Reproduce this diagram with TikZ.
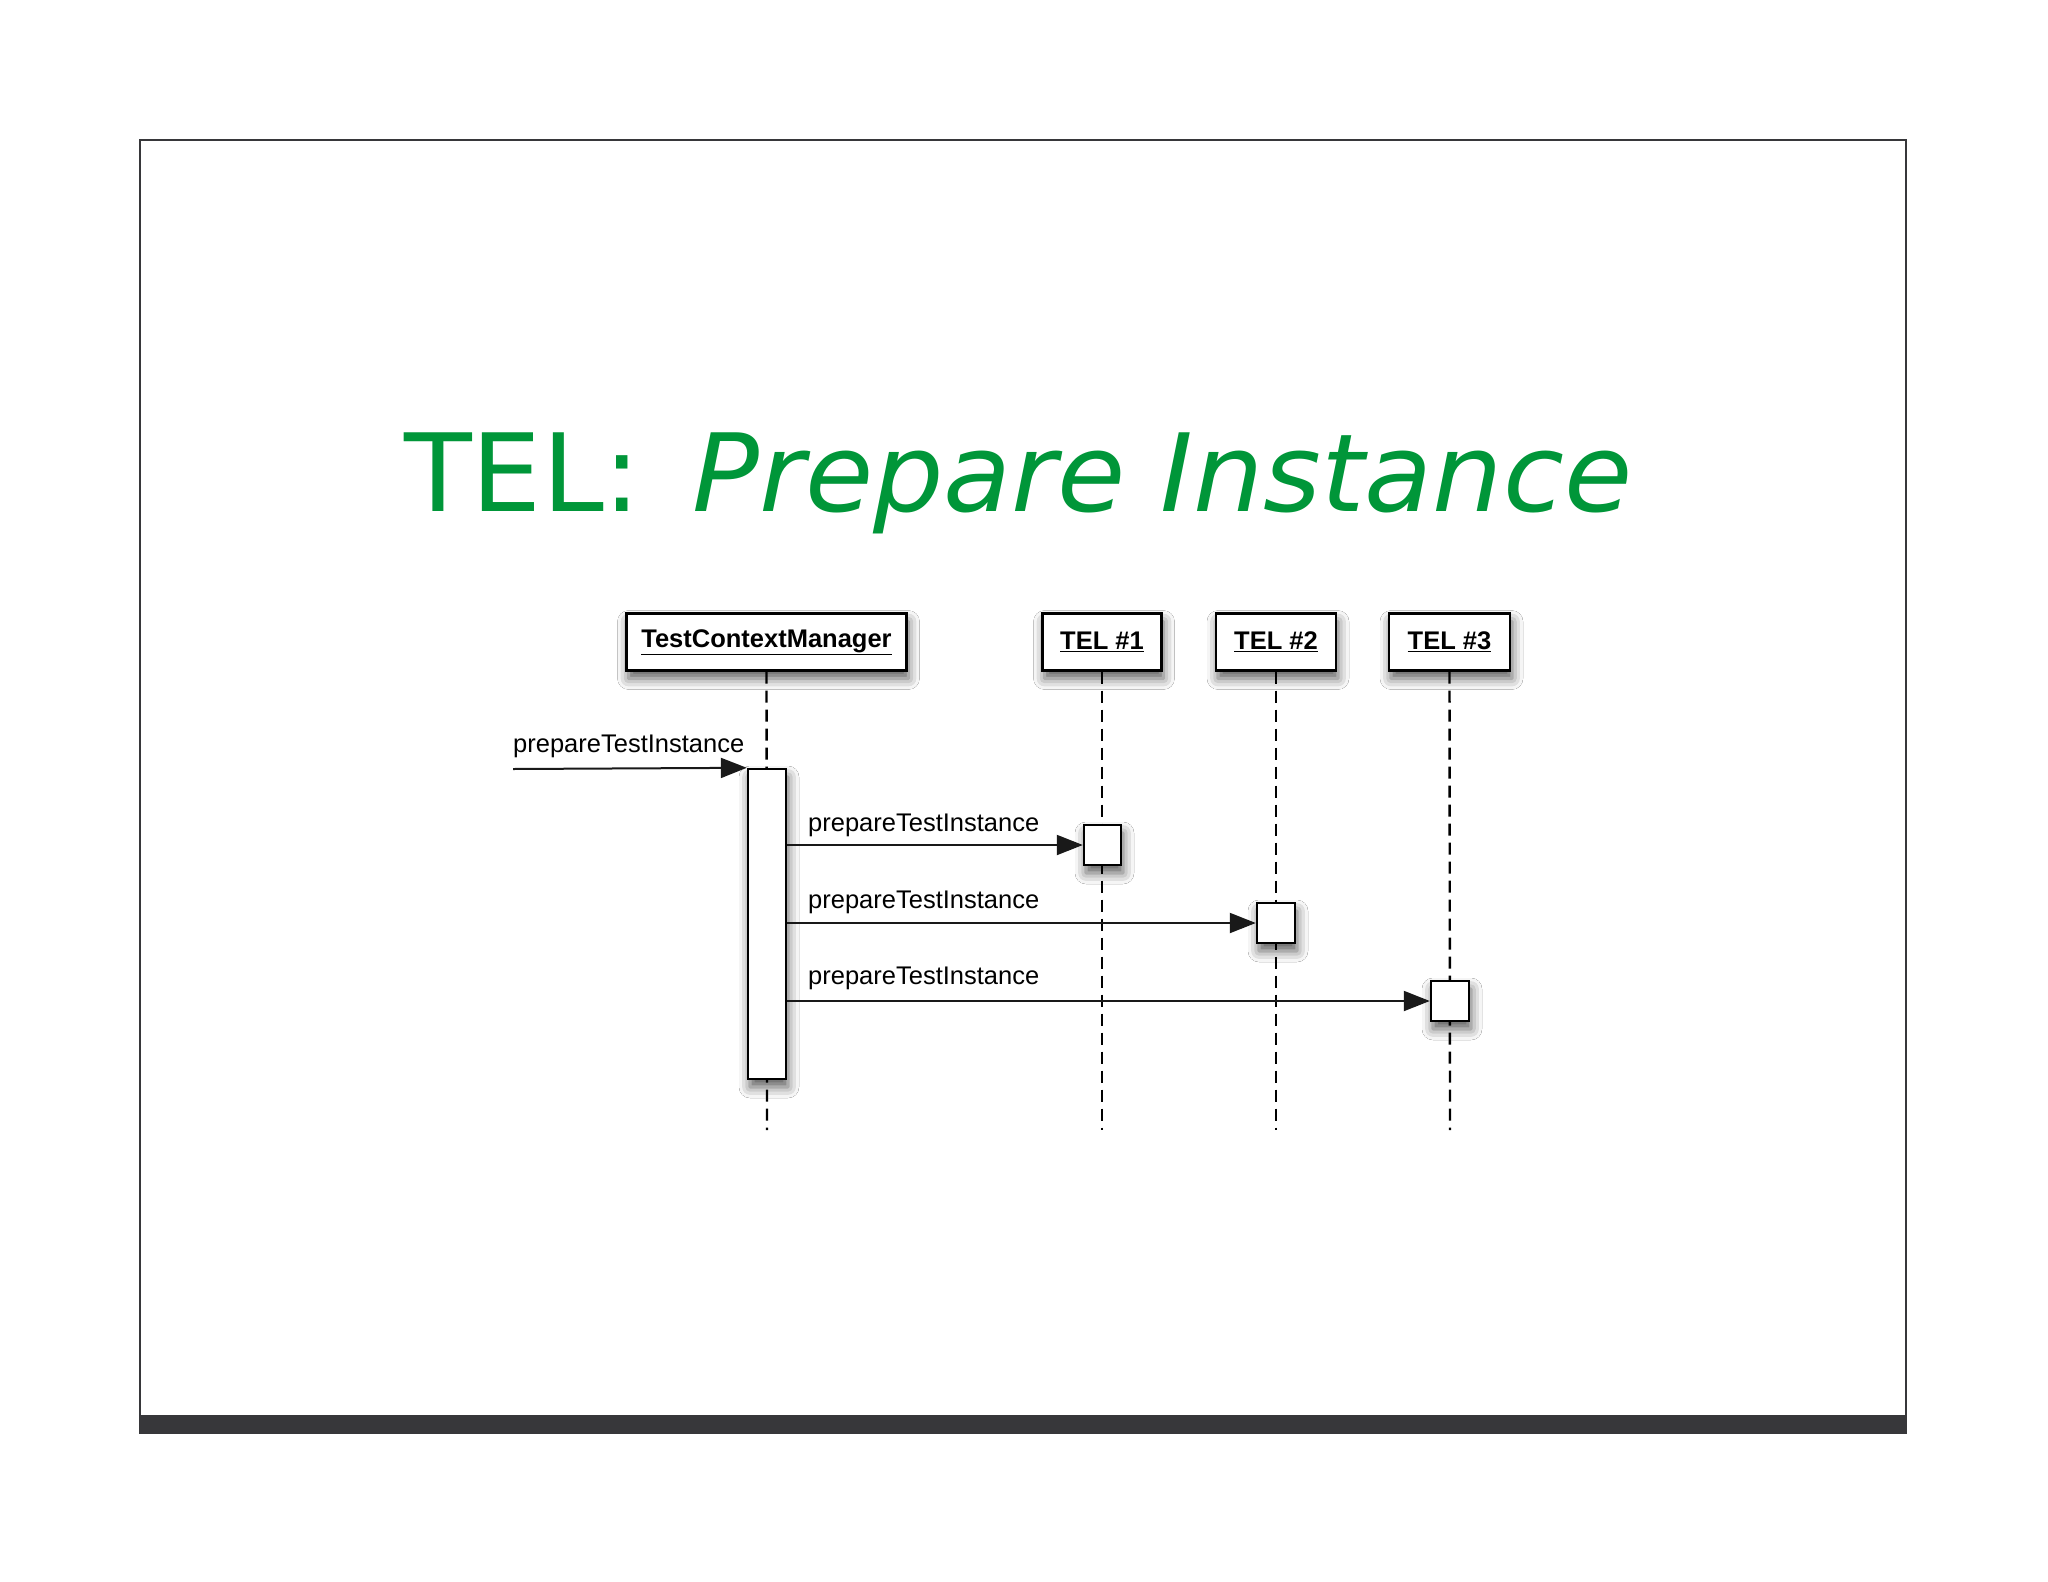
\documentclass[tikz,border=0pt]{standalone}
\usepackage{fontspec}
\setmainfont{Liberation Sans}
\newfontfamily\titlefont{DejaVu Sans}
\usetikzlibrary{arrows.meta,shadows.blur}
\definecolor{titlegreen}{RGB}{0,150,57}
\definecolor{framegray}{RGB}{55,55,58}
\begin{document}
\begin{tikzpicture}[x=1pt,y=-1pt,
  shad/.style={blur shadow={shadow xshift=2pt, shadow yshift=-8pt, shadow blur radius=11pt, shadow opacity=65}},
  obj/.style={draw=black, line width=2.4pt, fill=white, minimum height=57pt, inner sep=0pt, shad,
    font=\fontsize{25.5}{30}\selectfont\bfseries},
  actbox/.style={draw=black, line width=2.4pt, fill=white, inner sep=0pt, shad},
  life/.style={line width=2.4pt, dash pattern=on 12pt off 7pt},
  msg/.style={line width=2pt, draw=black!90, -{Triangle[length=26pt,width=20pt]}},
  lbl/.style={anchor=base west, inner sep=0pt, font=\fontsize{25.5}{30}\selectfont}
]
\useasboundingbox[fill=white] (0,0) rectangle (2048,1582);
% frame
\draw[framegray, line width=2.5pt] (140,1416) -- (140,140) -- (1906,140) -- (1906,1416);
\fill[framegray] (139,1415) rectangle (1907,1434);
% title
\node[anchor=base west, inner sep=0pt, text=titlegreen, xscale=1.027, transform shape,
  font=\titlefont\fontsize{108}{120}\selectfont] (title) at (404,511) {TEL:\hspace{50pt}\textit{Prepare Instance}};
% lifeline end points
\coordinate (e0) at (767,1130);
\coordinate (e1) at (1102,1130);
\coordinate (e2) at (1276,1130);
\coordinate (e3) at (1450,1130);
% objects
\node[obj, minimum width=280pt] (tcm) at (766.5,642) {\underline{TestContextManager}};
\node[obj, minimum width=119pt] (t1) at (1102,642) {\underline{TEL \#1}};
\node[obj, minimum width=120pt] (t2) at (1276,642) {\underline{TEL \#2}};
\node[obj, minimum width=121pt] (t3) at (1449.5,642) {\underline{TEL \#3}};
% lifelines
\draw[life] (tcm.south) -- (e0);
\draw[life] (t1.south) -- (e1);
\draw[life] (t2.south) -- (e2);
\draw[life] (t3.south) -- (e3);
% activations
\node[actbox, minimum width=38pt, minimum height=310pt] (act) at (767,924) {};
\node[actbox, minimum width=37pt, minimum height=40pt] (b1) at (1102.5,845) {};
\node[actbox, minimum width=38pt, minimum height=40pt] (b2) at (1276,923) {};
\node[actbox, minimum width=38pt, minimum height=40pt] (b3) at (1450,1001) {};
% incoming message
\coordinate (in) at (513,769);
\draw[msg] (in) -- (act.north west);
\node[lbl] (l0) at (513,752) {prepareTestInstance};
% messages
\draw[msg] (act.east |- b1.west) -- (b1.west);
\node[lbl] (l1) at (808,831) {prepareTestInstance};
\draw[msg] (act.east |- b2.west) -- (b2.west);
\node[lbl] (l2) at (808,908) {prepareTestInstance};
\draw[msg] (act.east |- b3.west) -- (b3.west);
\node[lbl] (l3) at (808,984) {prepareTestInstance};
\end{tikzpicture}
\end{document}
